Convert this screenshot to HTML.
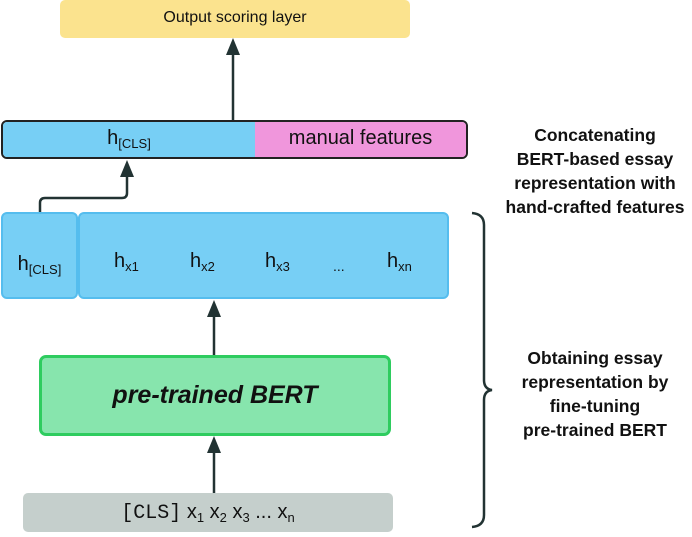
<!DOCTYPE html>
<html><head><style>
body{margin:0;width:692px;height:533px;background:#fff;position:relative;overflow:hidden;font-family:"Liberation Sans",sans-serif;}
.a{position:absolute;box-sizing:border-box;}
.t{position:absolute;text-align:center;font-weight:bold;font-size:17.5px;line-height:24px;color:#111;}
sub{font-size:13px;vertical-align:-4px;}
</style></head><body>
<div class="a" style="left:60px;top:0;width:350px;height:38px;background:#fbe38e;border-radius:5px;text-align:center;line-height:36px;font-size:16px;color:#111">Output scoring layer</div>
<div class="a" style="left:1px;top:120px;width:467px;height:39px;border:2px solid #222;border-radius:6px;overflow:hidden;display:flex">
 <div style="width:252px;background:#77cff5;text-align:center;font-size:20px;line-height:33px;color:#111">h<sub>[CLS]</sub></div>
 <div style="flex:1;background:#f096dc;text-align:center;font-size:20px;line-height:33px;color:#111">manual features</div>
</div>
<div class="a" style="left:1px;top:212px;width:77px;height:87px;background:#77cff5;border:2px solid #55bdee;border-radius:6px;text-align:center;line-height:100px;font-size:20px;color:#111">h<sub>[CLS]</sub></div>
<div class="a" style="left:78px;top:212px;width:371px;height:87px;background:#77cff5;border:2px solid #55bdee;border-radius:6px;font-size:20px;color:#111">
 <span style="position:absolute;left:34px;top:36px">h<sub>x1</sub></span>
 <span style="position:absolute;left:110px;top:36px">h<sub>x2</sub></span>
 <span style="position:absolute;left:185px;top:36px">h<sub>x3</sub></span>
 <span style="position:absolute;left:253px;top:44px;font-size:14px">...</span>
 <span style="position:absolute;left:307px;top:36px">h<sub>xn</sub></span>
</div>
<div class="a" style="left:39px;top:355px;width:352px;height:81px;background:#87e5ad;border:3px solid #2ecc5f;border-radius:7px;text-align:center;line-height:74px;font-size:25px;font-weight:bold;font-style:italic;color:#111">pre-trained BERT</div>
<div class="a" style="left:23px;top:493px;width:370px;height:39px;background:#c5cfcc;border-radius:5px;text-align:center;line-height:38px;font-size:20px;color:#111"><span style="font-family:'Liberation Mono',monospace">[CLS]</span> x<sub>1</sub> x<sub>2</sub> x<sub>3</sub> ... x<sub>n</sub></div>
<svg class="a" style="left:0;top:0" width="692" height="533">
 <g stroke="#233" stroke-width="2.5" fill="none">
  <line x1="233" y1="120" x2="233" y2="52"/>
  <path d="M40 212 V203 Q40 198 45 198 H122 Q127 198 127 193 V174"/>
  <line x1="214" y1="355" x2="214" y2="312"/>
  <line x1="214" y1="493" x2="214" y2="450"/>
  <path d="M472 213 Q484 214 484 225 V380 Q484 389 492 390 Q484 391 484 400 V515 Q484 526 472 527"/>
 </g>
 <g fill="#233">
  <polygon points="226,55 240,55 233,38"/>
  <polygon points="120,177 134,177 127,160"/>
  <polygon points="207,317 221,317 214,300"/>
  <polygon points="207,453 221,453 214,436"/>
 </g>
</svg>
<div class="t" style="left:498px;top:123px;width:194px">Concatenating<br>BERT-based essay<br>representation with<br>hand-crafted features</div>
<div class="t" style="left:498px;top:346px;width:194px">Obtaining essay<br>representation by<br>fine-tuning<br>pre-trained BERT</div>
</body></html>
